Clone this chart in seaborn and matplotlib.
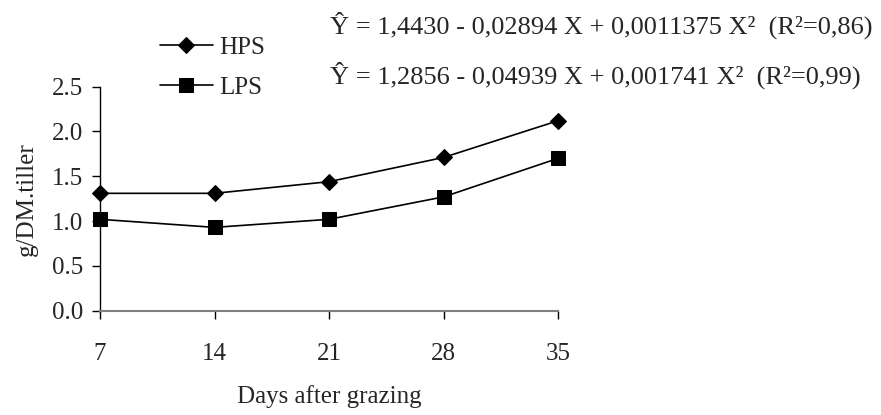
import matplotlib
matplotlib.use("Agg")
import matplotlib.pyplot as plt
import seaborn as sns
import pandas as pd

days = [7, 14, 21, 28, 35]
hps = [1.31, 1.31, 1.44, 1.71, 2.12]
lps = [1.02, 0.93, 1.02, 1.27, 1.70]
series_names = ["HPS", "LPS"]
yticks = [0.0, 0.5, 1.0, 1.5, 2.0, 2.5]
eq_hps = "Ŷ = 1,4430 - 0,02894 X + 0,0011375 X²  (R²=0,86)"
eq_lps = "Ŷ = 1,2856 - 0,04939 X + 0,001741 X²  (R²=0,99)"
xlabel = "Days after grazing"
ylabel = "g/DM.tiller"

sns.set_theme(style="white")
plt.rcParams["font.family"] = ["Liberation Serif", "DejaVu Serif"]
plt.rcParams["font.size"] = 18
FS = 18

df = pd.DataFrame({
    "day": days * 2,
    "value": hps + lps,
    "series": [series_names[0]] * len(days) + [series_names[1]] * len(days),
})

fig = plt.figure(figsize=(8.81, 4.15), dpi=100)
ax = fig.add_axes([100 / 881, 1 - 310.7 / 415, 458 / 881, 224 / 415])

styles = {"HPS": dict(marker="D", markersize=8), "LPS": dict(marker="s", markersize=10)}
for name in series_names:
    sub = df[df["series"] == name]
    sns.lineplot(data=sub, x="day", y="value", ax=ax, color="black", linewidth=1.2,
                 label=name, markeredgecolor="black", markerfacecolor="black",
                 clip_on=False, **styles[name])

ax.set_xlim(7, 35)
ax.set_ylim(0, 2.5)
ax.set_xticks(days)
ax.set_xticklabels([str(d) for d in days])
ax.set_yticks(yticks)
ax.set_yticklabels([f"{v:.1f}" for v in yticks])
for s in ["top", "right"]:
    ax.spines[s].set_visible(False)
ax.spines["left"].set_color("black")
ax.spines["left"].set_linewidth(1.0)
ax.spines["bottom"].set_color("#808080")
ax.spines["bottom"].set_linewidth(1.5)
ax.tick_params(axis="y", direction="out", length=6, width=1, color="black", pad=6, labelsize=FS, left=True)
ax.tick_params(axis="x", direction="out", length=6, width=1, color="black", pad=17, labelsize=FS, bottom=True)
ax.set_xlabel(xlabel, fontsize=FS, labelpad=15)
ax.set_ylabel(ylabel, fontsize=FS, labelpad=10)

handles, labels = ax.get_legend_handles_labels()
ax.legend(handles, labels, loc="upper left", bbox_to_anchor=(160 / 881, 1 - 36 / 415),
          bbox_transform=fig.transFigure, frameon=False, fontsize=FS,
          handlelength=2.1, handletextpad=0.28, labelspacing=0.7, borderpad=0, borderaxespad=0)

fig.text(330 / 881, 1 - 34 / 415, eq_hps, fontsize=19, ha="left", va="baseline")
fig.text(330 / 881, 1 - 84 / 415, eq_lps, fontsize=19, ha="left", va="baseline")

fig.savefig("out.png", dpi=100)
